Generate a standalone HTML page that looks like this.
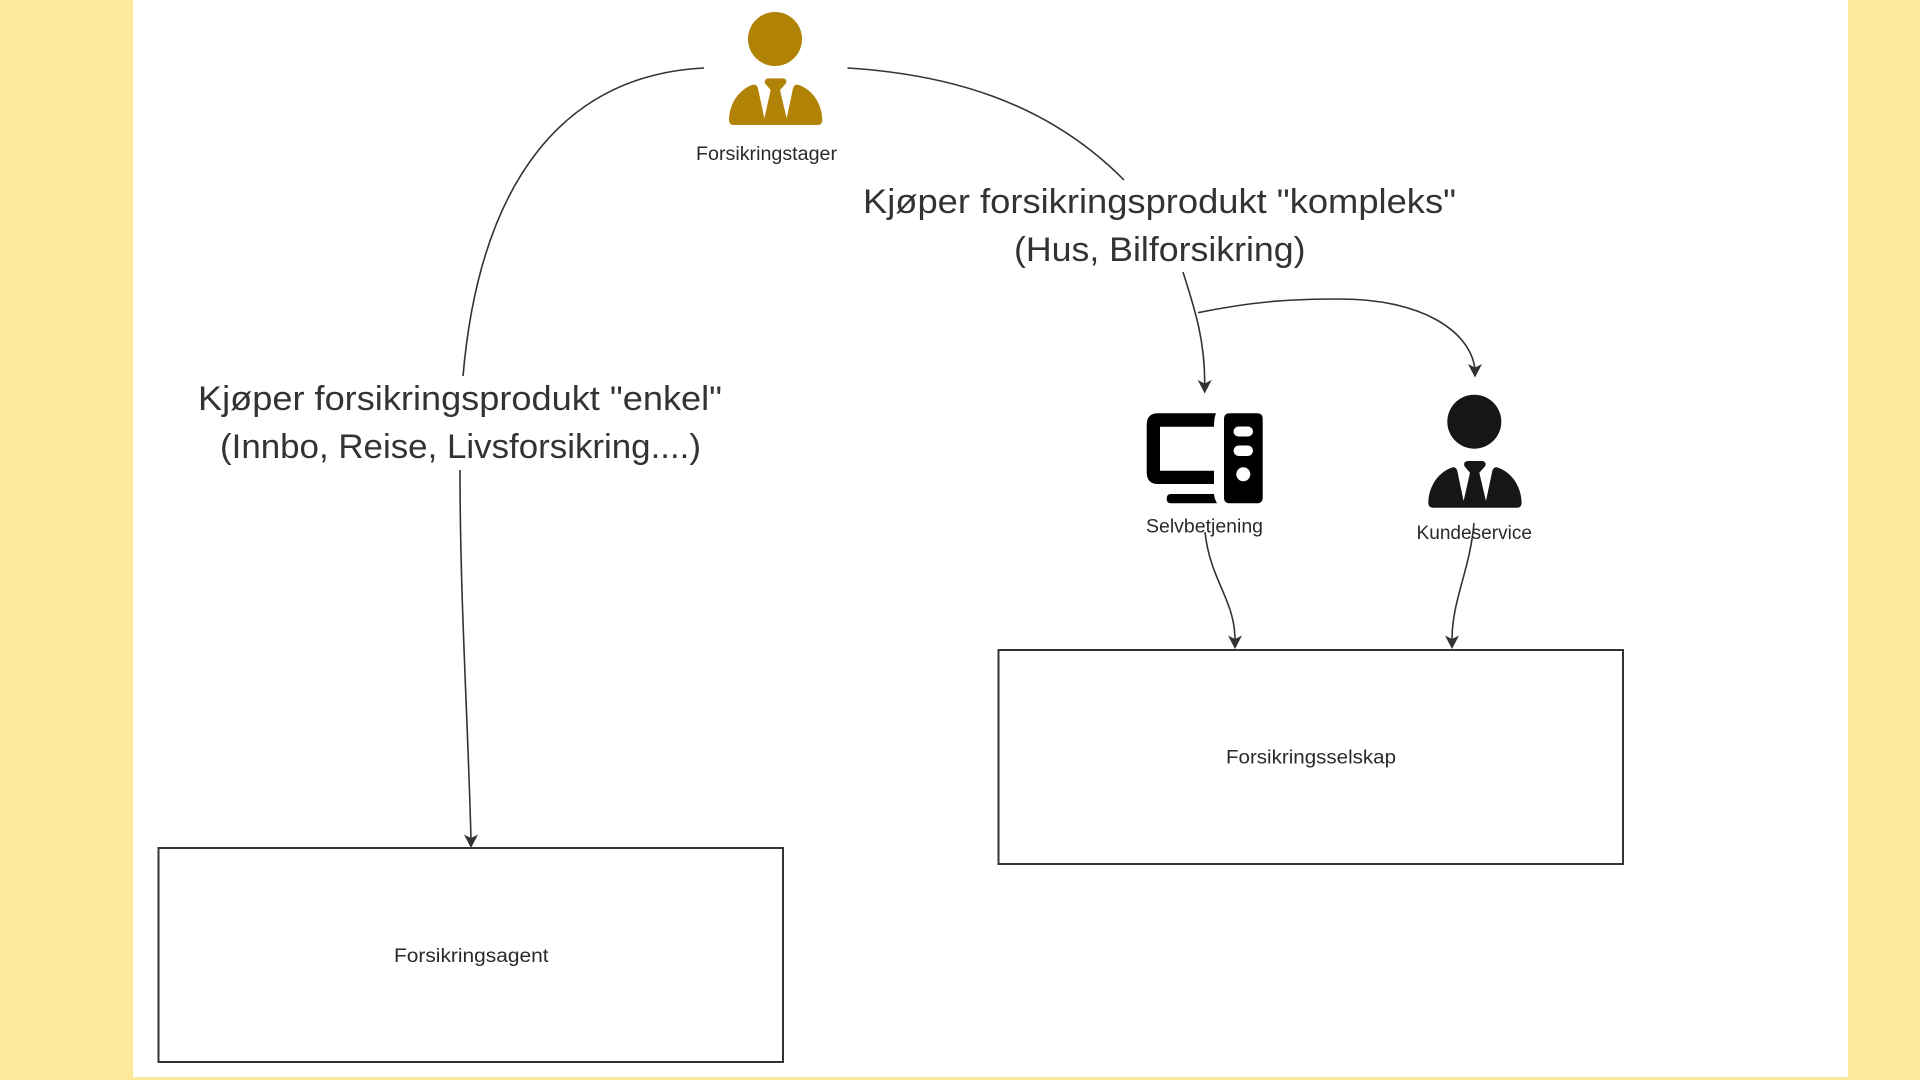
<!DOCTYPE html>
<html><head><meta charset="utf-8"><style>
html,body{margin:0;padding:0;background:#FEE99A;width:1920px;height:1080px;overflow:hidden}
svg{display:block}
text{font-family:"Liberation Sans",sans-serif;fill:#333;text-anchor:start}
.l{font-size:34px}
.s{font-size:19px;fill:#2a2a2a}
.c{fill:none;stroke:#333;stroke-width:1.6}
</style></head><body>
<svg width="1920" height="1080" viewBox="0 0 1920 1080" xmlns="http://www.w3.org/2000/svg">
<defs>
<path id="p" d="M147 360C148 315 172 272 216 255Q230 250 234 265L253 355L272 270L255 250Q252 236 265 235L308 235Q322 236 318 250L300 270L320 355L339 265Q343 250 357 255C402 272 426 315 427 360Q427 375 412 375L162 375Q147 375 147 360Z"/>
</defs>
<rect x="133" y="0" width="1715" height="1077" fill="#fff"/>

<rect x="158.5" y="848" width="624.5" height="214" fill="#fff" stroke="#333" stroke-width="2"/>
<rect x="998.5" y="650" width="624.5" height="214" fill="#fff" stroke="#333" stroke-width="2"/>

<circle cx="775" cy="39" r="27" fill="#B08205"/>
<g transform="translate(680,0) scale(.33333)" fill="#B08205"><use href="#p"/></g>

<circle cx="1474.3" cy="421.7" r="27" fill="#161616"/>
<g transform="translate(1379.3,382.7) scale(.33333)" fill="#161616"><use href="#p"/></g>

<g fill="#000">
<path fill-rule="evenodd" d="M1216 413.3L1158 413.3Q1146.7 413.3 1146.7 425L1146.7 472Q1146.7 484 1158 484L1214 484L1214 470.7L1160 470.7L1160 426.7L1214 426.7Q1214 418 1216 413.3Z"/>
<path d="M1171 494L1214 494Q1214.5 499 1217 503.3L1171 503.3Q1166.7 503.3 1166.7 498.7Q1166.7 494 1171 494Z"/>
<path fill-rule="evenodd" d="M1230 413.3L1257 413.3Q1262.7 413.3 1262.7 419L1262.7 497.5Q1262.7 503.3 1257 503.3L1230 503.3Q1224 503.3 1224 497.5L1224 419Q1224 413.3 1230 413.3Z"/>
<rect x="1233.5" y="426.5" width="19.5" height="10" rx="5" fill="#fff"/>
<rect x="1233.5" y="445.5" width="19.5" height="10.5" rx="5.2" fill="#fff"/>
<circle cx="1243.3" cy="474.3" r="7" fill="#fff"/>
</g>

<path class="c" d="M704 68C565 75 480 180 463 376"/>
<path class="c" d="M847.5 68C945 74 1045 100 1124 180"/>
<path class="c" d="M460 470C460 600 468 720 471 840"/>
<path class="c" d="M1183 272C1195 310 1205 340 1204.7 385"/>
<path class="c" d="M1198 312.7C1260 300 1300 299 1340 299C1420 299 1470 330 1475 369"/>
<path class="c" d="M1205 532C1210 580 1235 600 1235 640"/>
<path class="c" d="M1474 523C1470 570 1452 600 1452 640"/>

<g fill="#333">
<path d="M471 848L464 834.5L471 838L478 834.5Z"/>
<path d="M1204.7 393.5L1197.7 380L1204.7 383.5L1211.7 380Z"/>
<path d="M1475 377.5L1468 364L1475 367.5L1482 364Z"/>
<path d="M1235 649L1228 635.5L1235 639L1242 635.5Z"/>
<path d="M1452 649L1445 635.5L1452 639L1459 635.5Z"/>
</g>

<text class="l" x="863" y="213" textLength="593" lengthAdjust="spacingAndGlyphs">Kjøper forsikringsprodukt "kompleks"</text>
<text class="l" x="1014" y="261" textLength="291.5" lengthAdjust="spacingAndGlyphs">(Hus, Bilforsikring)</text>
<text class="l" x="198" y="410" textLength="524" lengthAdjust="spacingAndGlyphs">Kjøper forsikringsprodukt "enkel"</text>
<text class="l" x="220" y="458" textLength="481" lengthAdjust="spacingAndGlyphs">(Innbo, Reise, Livsforsikring....)</text>

<text class="s" x="696" y="160" textLength="141" lengthAdjust="spacingAndGlyphs">Forsikringstager</text>
<text class="s" x="1146" y="532.5" textLength="117" lengthAdjust="spacingAndGlyphs">Selvbetjening</text>
<text class="s" x="1416.5" y="539" textLength="115.5" lengthAdjust="spacingAndGlyphs">Kundeservice</text>
<text class="s" x="394" y="962" textLength="154.5" lengthAdjust="spacingAndGlyphs">Forsikringsagent</text>
<text class="s" x="1226" y="763.5" textLength="170" lengthAdjust="spacingAndGlyphs">Forsikringsselskap</text>
</svg>
</body></html>
